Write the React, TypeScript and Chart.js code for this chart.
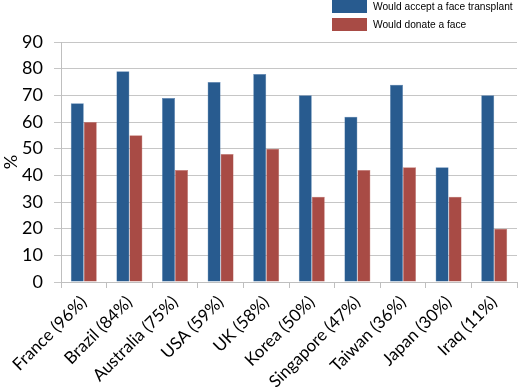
import React, { useEffect, useRef } from "react";
import { Chart, registerables } from "chart.js";

Chart.register(...registerables);

const categories = [
  "France (96%)",
  "Brazil (84%)",
  "Australia (75%)",
  "USA (59%)",
  "UK (58%)",
  "Korea (50%)",
  "Singapore (47%)",
  "Taiwan (36%)",
  "Japan (30%)",
  "Iraq (11%)",
];
const acceptValues = [67, 79, 69, 75, 78, 70, 62, 74, 43, 70];
const donateValues = [60, 55, 42, 48, 50, 32, 42, 43, 32, 20];
const seriesNames = ["Would accept a face transplant", "Would donate a face"];
const BLUE = "#285b8f";
const RED = "#a84b45";

const legendPlugin = {
  id: "customLegend",
  afterDraw(chart: any) {
    const ctx = chart.ctx;
    ctx.save();
    const items = [
      { label: seriesNames[0], color: BLUE, y: 0 },
      { label: seriesNames[1], color: RED, y: 18 },
    ];
    ctx.font = "10.2px 'Liberation Sans', Arial, sans-serif";
    ctx.textBaseline = "middle";
    ctx.textAlign = "left";
    for (const it of items) {
      ctx.fillStyle = it.color;
      ctx.fillRect(332, it.y, 35, 13);
      ctx.fillStyle = "#000";
      ctx.fillText(it.label, 373, it.y + 7);
    }
    ctx.restore();
  },
};

export default function App() {
  const ref = useRef<HTMLCanvasElement | null>(null);
  useEffect(() => {
    if (!ref.current) return;
    const chart = new Chart(ref.current, {
      type: "bar",
      data: {
        labels: categories,
        datasets: [
          {
            label: seriesNames[0],
            data: acceptValues,
            backgroundColor: BLUE,
            borderColor: "#5a86b5",
            borderWidth: 0.5,
            categoryPercentage: 0.57,
            barPercentage: 1.0,
          },
          {
            label: seriesNames[1],
            data: donateValues,
            backgroundColor: RED,
            borderColor: "#c47a74",
            borderWidth: 0.5,
            categoryPercentage: 0.57,
            barPercentage: 1.0,
          },
        ],
      },
      options: {
        animation: false,
        responsive: false,
        maintainAspectRatio: false,
        layout: { padding: { top: 42, right: 1, left: 0, bottom: 0 } },
        plugins: {
          legend: { display: false },
          tooltip: { enabled: false },
        },
        scales: {
          x: {
            afterFit(scale: any) {
              scale.height = 107;
            },
            grid: {
              offset: true,
              drawOnChartArea: false,
              drawTicks: true,
              tickLength: 6,
              color: "#bfbfbf",
            },
            border: { color: "#bfbfbf" },
            ticks: {
              color: "#000",
              font: { family: "Lato, 'Open Sans', sans-serif", size: 17 },
              maxRotation: 45,
              minRotation: 45,
              autoSkip: false,
              padding: 4,
            },
          },
          y: {
            min: 0,
            max: 90,
            afterFit(scale: any) {
              scale.width = 61;
            },
            ticks: {
              stepSize: 10,
              color: "#000",
              font: { family: "Lato, 'Open Sans', sans-serif", size: 18 },
              padding: 11,
            },
            grid: { color: "#c6c6c6", tickLength: 7 },
            border: { color: "#bfbfbf" },
            title: {
              display: true,
              text: "%",
              color: "#000",
              font: { family: "Lato, 'Open Sans', sans-serif", size: 18 },
              padding: { top: 0, bottom: 4 },
            },
          },
        },
      },
      plugins: [legendPlugin],
    });
    return () => chart.destroy();
  }, []);
  return (
    <div style={{ position: "fixed", left: 0, top: 0, width: 518, height: 389, background: "#fff" }}>
      <canvas ref={ref} width={518} height={389} style={{ width: 518, height: 389 }} />
    </div>
  );
}
